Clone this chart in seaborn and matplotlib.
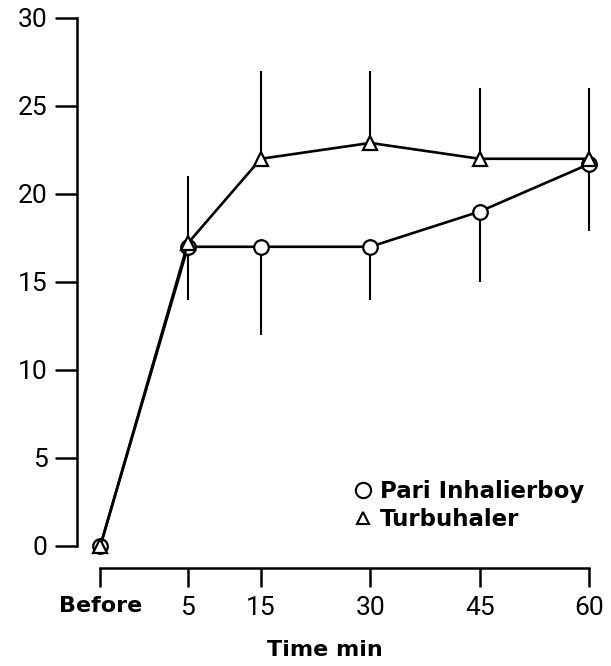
#!/usr/bin/env python
# Time course after inhalation: Pari Inhalierboy vs Turbuhaler

import numpy as np
import pandas as pd
import seaborn as sns
import matplotlib.pyplot as plt
from matplotlib.lines import Line2D

# Data ("Before" is plotted left of the 5 min point)
time_min = [-7, 5, 15, 30, 45, 60]
time_labels = ["Before", "5", "15", "30", "45", "60"]

pari_mean = [0, 17.0, 17.0, 17.0, 19.0, 21.7]
pari_sd = [0, 3.0, 5.0, 3.0, 4.0, 3.8]        # drawn downwards
turbu_mean = [0, 17.2, 22.0, 22.9, 22.0, 22.0]
turbu_sd = [0, 3.8, 5.0, 4.1, 4.0, 4.0]       # drawn upwards

df = pd.DataFrame({
    "time": time_min * 2,
    "value": pari_mean + turbu_mean,
    "device": ["Pari Inhalierboy"] * 6 + ["Turbuhaler"] * 6,
})

sns.set_style("ticks")
plt.rcParams["font.family"] = ["Roboto", "DejaVu Sans"]
plt.rcParams["text.color"] = "black"
plt.rcParams["axes.labelcolor"] = "black"
bold_font = ["DejaVu Sans"]

fig = plt.figure(figsize=(6.11, 6.66), dpi=100)
ax = fig.add_axes([0.126, 0.1802, 0.856, 0.7928])

# error bars: one side only
pm, ps = np.array(pari_mean), np.array(pari_sd)
tm, ts = np.array(turbu_mean), np.array(turbu_sd)
t = np.array(time_min)
ax.vlines(t[ps > 0], (pm - ps)[ps > 0], pm[ps > 0], color="black", lw=1.5)
ax.vlines(t[ts > 0], tm[ts > 0], (tm + ts)[ts > 0], color="black", lw=1.5)

sns.lineplot(
    data=df, x="time", y="value", style="device",
    markers={"Pari Inhalierboy": "o", "Turbuhaler": "^"}, dashes=False,
    color="black", lw=1.9, markersize=10.5, markerfacecolor="white",
    markeredgecolor="black", markeredgewidth=1.6, clip_on=False,
    legend=False, ax=ax, zorder=3
)

ax.set_xlim(-10.2, 61.5)
ax.set_ylim(0, 30)
ax.set_yticks(range(0, 31, 5))
ax.set_xticks(time_min)
ax.set_xticklabels(time_labels)
ax.set_xlabel("Time min", fontsize=16, fontweight="bold", family=bold_font,
              va="center")
ax.xaxis.set_label_coords(0.474, -0.197)
ax.set_ylabel("")

for side in ["top", "right"]:
    ax.spines[side].set_visible(False)
ax.spines["bottom"].set_position(("outward", 16))
ax.spines["bottom"].set_bounds(-7, 60)
for side in ["left", "bottom"]:
    ax.spines[side].set_linewidth(1.8)
    ax.spines[side].set_color("black")

ax.tick_params(axis="both", direction="out", width=1.8, labelsize=19,
               color="black", labelcolor="black")
ax.tick_params(axis="y", length=16, pad=5)
ax.tick_params(axis="x", length=14, pad=6)

lbl = ax.get_xticklabels()[0]
lbl.set_fontweight("bold")
lbl.set_fontfamily(bold_font)
lbl.set_fontsize(16)

handles = [
    Line2D([], [], ls="none", marker="o", markersize=11, mfc="white",
           mec="black", mew=1.5),
    Line2D([], [], ls="none", marker="^", markersize=8, mfc="white",
           mec="black", mew=1.5),
]
ax.legend(handles, ["Pari Inhalierboy", "Turbuhaler"], loc="upper left",
          bbox_to_anchor=(354 / 611, 1 - 480 / 666),
          bbox_transform=fig.transFigure, frameon=False, borderpad=0,
          borderaxespad=0, handlelength=0.8, handletextpad=0.35,
          labelspacing=0.2,
          prop={"family": bold_font, "weight": "bold", "size": 16.5})

plt.savefig("out.png", dpi=100)
